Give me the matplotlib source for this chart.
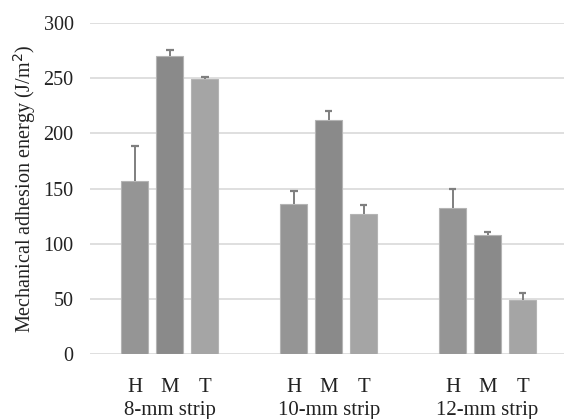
import numpy as np
import matplotlib.pyplot as plt
from matplotlib.transforms import blended_transform_factory

plt.rcParams['font.family'] = ['Liberation Serif', 'DejaVu Serif']

groups = ["8-mm strip", "10-mm strip", "12-mm strip"]
positions = ["H", "M", "T"]
energy = [
    [157, 270, 249],
    [136, 212, 127],
    [132, 108, 49],
]
err_up = [
    [32, 6, 2.5],
    [12, 8, 8],
    [18, 3, 6.5],
]
colors = ["#959595", "#8a8a8a", "#a5a5a5"]

fig = plt.figure(figsize=(5.64, 4.19), dpi=100)
ax = fig.add_axes([0.16, 0.155, 0.84, 0.79])

group_step = 4.543
bar_w = 0.77
cap_w = 0.11
tick_x = []
tick_lab = []
for g in range(len(groups)):
    for i in range(len(positions)):
        x = g * group_step + (i - 1)
        v = energy[g][i]
        top = v + err_up[g][i]
        ax.bar(x, v, width=bar_w, color=colors[i],
               edgecolor="#b4b4b4", linewidth=0.8, zorder=2)
        # plus-only error bar, like Excel
        ax.vlines(x, v, top, color="#7f7f7f", linewidth=1.4, zorder=3)
        ax.hlines(top, x - cap_w, x + cap_w, color="#7f7f7f", linewidth=1.6, zorder=3)
        tick_x.append(x)
        tick_lab.append(positions[i])

ax.set_xlim(-2.271, 11.27)
ax.set_ylim(0, 300)
ax.set_yticks(range(0, 301, 50))
ax.set_xticks(tick_x)
ax.set_xticklabels(tick_lab, fontsize=15)
ax.tick_params(axis="both", length=0, labelsize=14.5, colors="#222222")
ax.tick_params(axis="x", labelsize=15, pad=17)
ax.tick_params(axis="y", pad=12)

ax.grid(axis="y", color="#d9d9d9", linewidth=1.2, zorder=0)
ax.set_axisbelow(True)
for s in ["top", "right", "left", "bottom"]:
    ax.spines[s].set_visible(False)

trans = blended_transform_factory(ax.transData, ax.transAxes)
for g, name in enumerate(groups):
    ax.text(g * group_step, -0.172, name, transform=trans, ha="center",
            va="center", fontsize=15, color="#222222")

ax.set_ylabel("Mechanical adhesion energy (J/m$^2$)", fontsize=14.5,
              color="#222222", labelpad=4)

fig.savefig("out.png", dpi=100)
